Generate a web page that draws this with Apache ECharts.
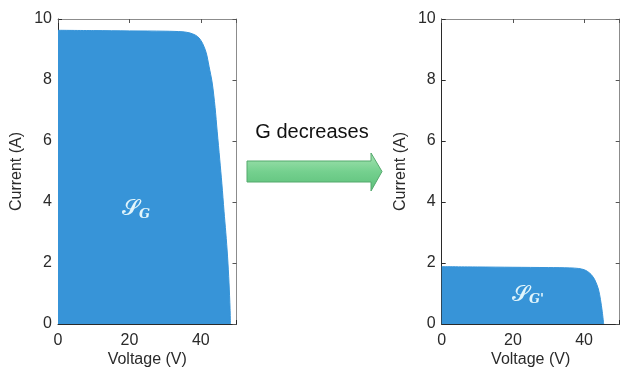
<!DOCTYPE html>
<html><head><meta charset="utf-8">
<script src="https://cdn.jsdelivr.net/npm/echarts@6/dist/echarts.min.js"></script>
<style>html,body{margin:0;padding:0;background:#fff}#c{width:620px;height:369px}</style>
</head><body><div id="c"></div>
<script>
// Irradiance G (left) I-V curve
const voltageG = [0, 10, 20, 30, 35, 37, 38.5, 39.5, 40.5, 41.5, 42.3, 43.2, 44, 44.6, 45.3, 45.9, 46.5, 47, 47.5, 47.9, 48.2, 48.3];
const currentG = [9.63, 9.62, 9.61, 9.6, 9.58, 9.54, 9.47, 9.38, 9.2, 8.9, 8.45, 7.9, 7.1, 6.3, 5.4, 4.6, 3.7, 3.0, 2.2, 1.35, 0.5, 0];
// Irradiance G' (right) I-V curve
const voltageG2 = [0, 10, 20, 30, 36, 38.5, 40, 41, 42, 43, 44, 44.6, 45.1, 45.5];
const currentG2 = [1.88, 1.87, 1.86, 1.85, 1.84, 1.82, 1.78, 1.72, 1.62, 1.45, 1.15, 0.8, 0.4, 0];
const xTickLabels = ['0', '20', '40'];
const yTickLabels = ['0', '2', '4', '6', '8', '10'];
const xName = 'Voltage (V)';
const yName = 'Current (A)';
const arrowText = 'G decreases';

const FILL = '#3794d8';
const DARK = '#2a2a2a';
const GRAY = '#8c8c8c';
const FONT = 'Liberation Sans';

const chart = echarts.init(document.getElementById('c'), null, {renderer: 'canvas'});

function pairs(v, i) { return v.map((x, k) => [x, i[k]]); }

const grids = [
  {left: 58, top: 19, width: 178.5, height: 305, outerBoundsMode: 'none', containLabel: false},
  {left: 441.7, top: 19, width: 178, height: 305, outerBoundsMode: 'none', containLabel: false}
];

const xAxes = [], yAxes = [];
grids.forEach((g, gi) => {
  xAxes.push({
    type: 'value', gridIndex: gi, position: 'bottom', min: 0, max: 50, interval: 20,
    name: xName, nameLocation: 'middle', nameGap: 28, nameMoveOverlap: false,
    nameTextStyle: {color: DARK, fontSize: 16, fontFamily: FONT},
    axisLine: {show: true, onZero: false, lineStyle: {color: DARK, width: 1}},
    axisTick: {show: true, inside: true, length: 4, lineStyle: {color: DARK}},
    axisLabel: {show: true, margin: 9, color: DARK, fontSize: 16, fontFamily: FONT,
      formatter: v => xTickLabels.includes(String(v)) ? String(v) : ''},
    splitLine: {show: false}
  });
  xAxes.push({
    type: 'value', gridIndex: gi, position: 'top', min: 0, max: 50, interval: 20,
    axisLine: {show: true, onZero: false, lineStyle: {color: GRAY, width: 1}},
    axisTick: {show: true, inside: true, length: 4, lineStyle: {color: '#555'}},
    axisLabel: {show: false}, splitLine: {show: false}
  });
  yAxes.push({
    type: 'value', gridIndex: gi, position: 'left', min: 0, max: 10, interval: 2,
    name: yName, nameLocation: 'middle', nameGap: 33, nameMoveOverlap: false,
    nameTextStyle: {color: DARK, fontSize: 16, fontFamily: FONT},
    axisLine: {show: true, onZero: false, lineStyle: {color: DARK, width: 1}},
    axisTick: {show: true, inside: true, length: 4, lineStyle: {color: DARK}},
    axisLabel: {show: true, margin: 6, color: DARK, fontSize: 16, fontFamily: FONT,
      formatter: v => yTickLabels.includes(String(v)) ? String(v) : ''},
    splitLine: {show: false}
  });
  yAxes.push({
    type: 'value', gridIndex: gi, position: 'right', min: 0, max: 10, interval: 2,
    axisLine: {show: true, onZero: false, lineStyle: {color: GRAY, width: 1}},
    axisTick: {show: true, inside: true, length: 4, lineStyle: {color: '#555'}},
    axisLabel: {show: false}, splitLine: {show: false}
  });
});

function areaSeries(v, i, gi) {
  return {
    type: 'line', xAxisIndex: gi * 2, yAxisIndex: gi * 2, data: pairs(v, i),
    smooth: 0.3, showSymbol: false, symbol: 'none', silent: true,
    lineStyle: {color: FILL, width: 1},
    areaStyle: {color: FILL, opacity: 1, origin: 'start'},
    z: 1
  };
}

chart.setOption({
  animation: false,
  backgroundColor: '#fff',
  grid: grids,
  xAxis: xAxes,
  yAxis: yAxes,
  series: [areaSeries(voltageG, currentG, 0), areaSeries(voltageG2, currentG2, 1)]
});

// annotations placed in data coordinates
const pS1 = chart.convertToPixel({gridIndex: 0}, [20.2, 3.75]);
const pS2 = chart.convertToPixel({gridIndex: 1}, [22, 0.95]);
function sLabel(p, sub, key) {
  return [
    {type: 'text', id: 'S' + key, x: p[0], y: p[1], z: 10,
      style: {text: '𝓢', fill: '#e2f5fb', font: '22px "DejaVu Serif"', align: 'center', verticalAlign: 'middle'}},
    {type: 'text', id: 'G' + key, x: p[0] + 9, y: p[1] + 5, z: 10,
      style: {text: sub, fill: '#e2f5fb', font: 'italic bold 13px "DejaVu Serif"', align: 'left', verticalAlign: 'middle'}}
  ];
}

chart.setOption({
  graphic: [
    ...sLabel(pS1, 'G', 1),
    ...sLabel(pS2, "G'", 2),
    {type: 'text', x: 312, y: 132, z: 10,
      style: {text: arrowText, fill: '#111', font: '20px "Liberation Sans"', align: 'center', verticalAlign: 'middle'}},
    {type: 'polygon', z: 10,
      shape: {points: [[247, 161], [371, 161], [371, 153], [382, 171.5], [371, 191], [371, 182], [247, 182]]},
      style: {
        fill: new echarts.graphic.LinearGradient(0, 0, 0, 1, [
          {offset: 0, color: '#a6e4b3'}, {offset: 0.5, color: '#74d08e'}, {offset: 1, color: '#5bbf79'}
        ]),
        stroke: '#55a96d', lineWidth: 1
      }}
  ]
});
</script></body></html>
